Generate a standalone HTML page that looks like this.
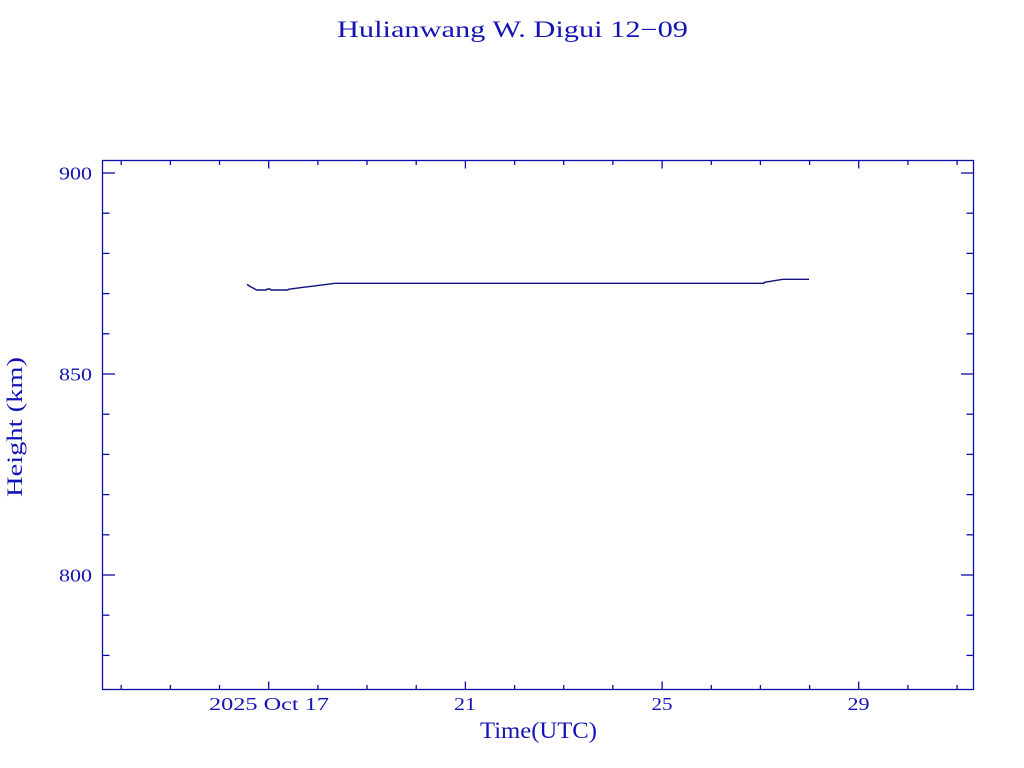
<!DOCTYPE html>
<html>
<head>
<meta charset="utf-8">
<style>
html,body{margin:0;padding:0;background:#fff;}
svg{display:block;}
text{font-family:"Liberation Serif",serif;fill:#1414b4;}
</style>
</head>
<body>
<svg width="1024" height="768" viewBox="0 0 1024 768" xmlns="http://www.w3.org/2000/svg">
<rect x="0" y="0" width="1024" height="768" fill="#fff"/>
<!-- title -->
<text x="337" y="37" font-size="23" textLength="351" lengthAdjust="spacingAndGlyphs">Hulianwang W. Digui 12−09</text>
<!-- frame -->
<rect x="102.5" y="160.5" width="871" height="529" fill="none" stroke="#0c0ca8" stroke-width="1.3"/>
<g stroke="#0c0ca8" stroke-width="1.3">
<!-- y major ticks 800,850,900 -->
<line x1="102.5" y1="575" x2="115" y2="575"/>
<line x1="102.5" y1="374" x2="115" y2="374"/>
<line x1="102.5" y1="173" x2="115" y2="173"/>
<line x1="973.5" y1="575" x2="961" y2="575"/>
<line x1="973.5" y1="374" x2="961" y2="374"/>
<line x1="973.5" y1="173" x2="961" y2="173"/>
<!-- y minor ticks -->
<line x1="102.5" y1="655.4" x2="109.5" y2="655.4"/>
<line x1="102.5" y1="615.2" x2="109.5" y2="615.2"/>
<line x1="102.5" y1="534.8" x2="109.5" y2="534.8"/>
<line x1="102.5" y1="494.6" x2="109.5" y2="494.6"/>
<line x1="102.5" y1="454.4" x2="109.5" y2="454.4"/>
<line x1="102.5" y1="414.2" x2="109.5" y2="414.2"/>
<line x1="102.5" y1="333.8" x2="109.5" y2="333.8"/>
<line x1="102.5" y1="293.6" x2="109.5" y2="293.6"/>
<line x1="102.5" y1="253.4" x2="109.5" y2="253.4"/>
<line x1="102.5" y1="213.2" x2="109.5" y2="213.2"/>
<line x1="973.5" y1="655.4" x2="966.5" y2="655.4"/>
<line x1="973.5" y1="615.2" x2="966.5" y2="615.2"/>
<line x1="973.5" y1="534.8" x2="966.5" y2="534.8"/>
<line x1="973.5" y1="494.6" x2="966.5" y2="494.6"/>
<line x1="973.5" y1="454.4" x2="966.5" y2="454.4"/>
<line x1="973.5" y1="414.2" x2="966.5" y2="414.2"/>
<line x1="973.5" y1="333.8" x2="966.5" y2="333.8"/>
<line x1="973.5" y1="293.6" x2="966.5" y2="293.6"/>
<line x1="973.5" y1="253.4" x2="966.5" y2="253.4"/>
<line x1="973.5" y1="213.2" x2="966.5" y2="213.2"/>
<!-- x major ticks 17,21,25,29 -->
<line x1="268.7" y1="689.5" x2="268.7" y2="681.5"/>
<line x1="465.4" y1="689.5" x2="465.4" y2="681.5"/>
<line x1="662.1" y1="689.5" x2="662.1" y2="681.5"/>
<line x1="858.7" y1="689.5" x2="858.7" y2="681.5"/>
<line x1="268.7" y1="160.5" x2="268.7" y2="168.5"/>
<line x1="465.4" y1="160.5" x2="465.4" y2="168.5"/>
<line x1="662.1" y1="160.5" x2="662.1" y2="168.5"/>
<line x1="858.7" y1="160.5" x2="858.7" y2="168.5"/>
<!-- x minor ticks -->
<line x1="121.2" y1="689.5" x2="121.2" y2="685"/>
<line x1="170.4" y1="689.5" x2="170.4" y2="685"/>
<line x1="219.5" y1="689.5" x2="219.5" y2="685"/>
<line x1="317.9" y1="689.5" x2="317.9" y2="685"/>
<line x1="367.0" y1="689.5" x2="367.0" y2="685"/>
<line x1="416.2" y1="689.5" x2="416.2" y2="685"/>
<line x1="514.6" y1="689.5" x2="514.6" y2="685"/>
<line x1="563.7" y1="689.5" x2="563.7" y2="685"/>
<line x1="612.9" y1="689.5" x2="612.9" y2="685"/>
<line x1="711.3" y1="689.5" x2="711.3" y2="685"/>
<line x1="760.4" y1="689.5" x2="760.4" y2="685"/>
<line x1="809.6" y1="689.5" x2="809.6" y2="685"/>
<line x1="907.9" y1="689.5" x2="907.9" y2="685"/>
<line x1="957.1" y1="689.5" x2="957.1" y2="685"/>
<line x1="121.2" y1="160.5" x2="121.2" y2="165"/>
<line x1="170.4" y1="160.5" x2="170.4" y2="165"/>
<line x1="219.5" y1="160.5" x2="219.5" y2="165"/>
<line x1="317.9" y1="160.5" x2="317.9" y2="165"/>
<line x1="367.0" y1="160.5" x2="367.0" y2="165"/>
<line x1="416.2" y1="160.5" x2="416.2" y2="165"/>
<line x1="514.6" y1="160.5" x2="514.6" y2="165"/>
<line x1="563.7" y1="160.5" x2="563.7" y2="165"/>
<line x1="612.9" y1="160.5" x2="612.9" y2="165"/>
<line x1="711.3" y1="160.5" x2="711.3" y2="165"/>
<line x1="760.4" y1="160.5" x2="760.4" y2="165"/>
<line x1="809.6" y1="160.5" x2="809.6" y2="165"/>
<line x1="907.9" y1="160.5" x2="907.9" y2="165"/>
<line x1="957.1" y1="160.5" x2="957.1" y2="165"/>
</g>
<!-- y tick labels -->
<text x="59" y="179.5" font-size="18" textLength="33" lengthAdjust="spacingAndGlyphs">900</text>
<text x="59" y="380.5" font-size="18" textLength="33" lengthAdjust="spacingAndGlyphs">850</text>
<text x="59" y="581.5" font-size="18" textLength="33" lengthAdjust="spacingAndGlyphs">800</text>
<!-- x tick labels -->
<text x="209" y="710" font-size="18" textLength="120" lengthAdjust="spacingAndGlyphs">2025 Oct 17</text>
<text x="454" y="710" font-size="18" textLength="22" lengthAdjust="spacingAndGlyphs">21</text>
<text x="651.5" y="710" font-size="18" textLength="21" lengthAdjust="spacingAndGlyphs">25</text>
<text x="847.5" y="710" font-size="18" textLength="22" lengthAdjust="spacingAndGlyphs">29</text>
<!-- axis labels -->
<text x="480" y="738" font-size="23" textLength="117" lengthAdjust="spacingAndGlyphs">Time(UTC)</text>
<text transform="translate(22,497) rotate(-90)" font-size="22" textLength="140" lengthAdjust="spacingAndGlyphs">Height (km)</text>
<!-- series -->
<polyline fill="none" stroke="#10107e" stroke-width="1.4" stroke-linejoin="round"
points="247,284.3 250,286.5 253,288 256.7,290 266,290 267.5,289 270,289 271,290 288,290 288.3,289.3 295.7,288.3 303,287.3 311.7,286.3 319.3,285.3 327.3,284.3 335,283.3 764,283.3 764.3,282.3 770.7,281.3 776.7,280.3 783,279.3 809,279.3"/>
</svg>
</body>
</html>
